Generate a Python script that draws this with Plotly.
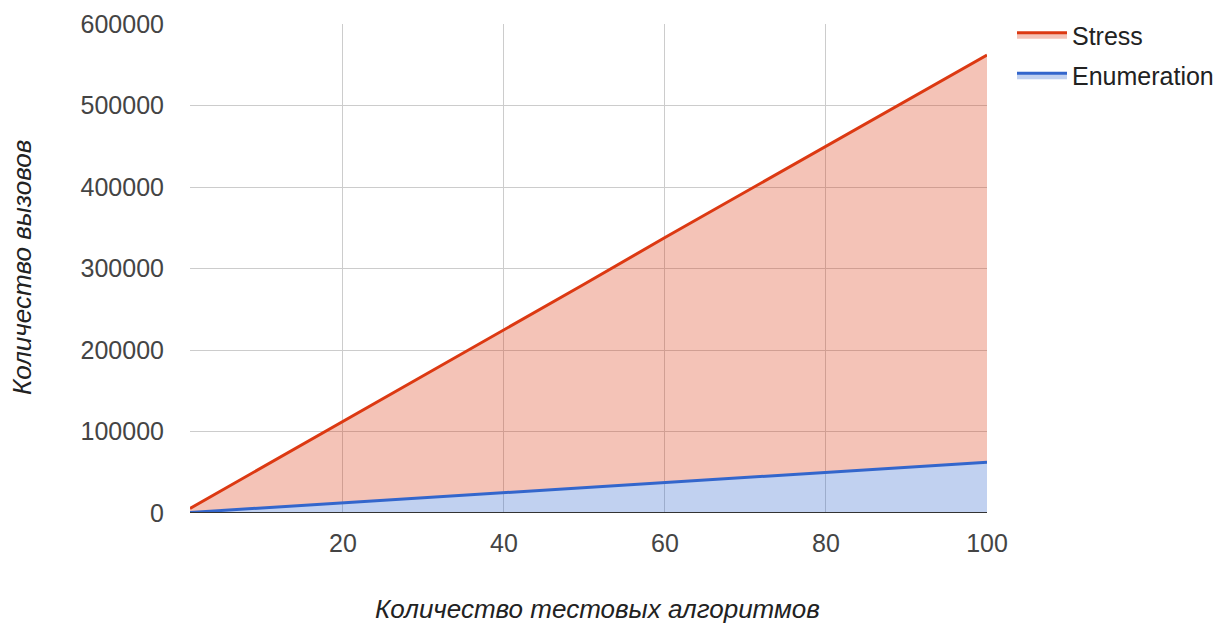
import plotly.graph_objects as go

x_vals = [1, 10, 20, 30, 40, 50, 60, 70, 80, 90, 100]
stress = [5600, 56200, 112000, 168500, 225000, 281000, 338000, 394000, 450000, 506000, 562000]
enumeration = [620, 6200, 12400, 18700, 25000, 31000, 37300, 43500, 50000, 56000, 62200]
x_ticks = [20, 40, 60, 80, 100]
y_ticks = [0, 100000, 200000, 300000, 400000, 500000, 600000]

OFF = 8  # page body offset
W, H = 1224, 623
pl, pr, pt, pb = 190 - OFF, 987 - OFF, 24 - OFF, 513 - OFF

fig = go.Figure()
fig.add_trace(go.Scatter(
    x=x_vals, y=enumeration, name="Enumeration", mode="lines",
    line=dict(color="#3366cc", width=3), fill="tozeroy", legendgroup="e",
    fillcolor="rgba(51,102,204,0.3)", legendrank=2))
fig.add_trace(go.Scatter(
    x=x_vals, y=stress, name="Stress", mode="lines",
    line=dict(color="#dc3912", width=3), fill="tonexty", legendgroup="s",
    fillcolor="rgba(220,57,18,0.3)", legendrank=1))

def px(xp, yp):
    return (xp - OFF - pl) / (pr - pl), (pb - (yp - OFF)) / (pb - pt)

ax_x, ax_y = px(597, 609)
ay_x, ay_y = px(22, 268)

fig.update_layout(
    width=W, height=H,
    margin=dict(l=pl, r=W - pr, t=pt, b=H - pb, autoexpand=False),
    plot_bgcolor="white", paper_bgcolor="white",
    font=dict(family="Arial, Liberation Sans, sans-serif", size=25, color="#444"),
    showlegend=True,
    legend=dict(xref="container", yref="container",
                x=(1012 - OFF) / W, y=1 - (12 - OFF) / H, xanchor="left", yanchor="top",
                traceorder="grouped", font=dict(size=25, color="#222"),
                bgcolor="rgba(0,0,0,0)", tracegroupgap=5, itemwidth=50),
    xaxis=dict(range=[1, 100], tickvals=x_ticks, showgrid=True, gridcolor="#cccccc",
               gridwidth=1, zeroline=False, showline=False, ticks="", automargin=False,
               tickfont=dict(size=25, color="#444"), ticklabelstandoff=13),
    yaxis=dict(range=[0, 600000], tickvals=y_ticks, tickformat="d", showgrid=True,
               gridcolor="#cccccc", gridwidth=1, zeroline=False, showline=False,
               ticks="", automargin=False,
               tickfont=dict(size=25, color="#444"), ticklabelstandoff=25),
    annotations=[
        dict(text="Количество тестовых алгоритмов", x=ax_x, y=ax_y, xref="paper", yref="paper",
             xanchor="center", yanchor="middle",
             showarrow=False, font=dict(size=26, color="#222", style="italic")),
        dict(text="Количество вызовов", x=ay_x, y=ay_y, xref="paper", yref="paper",
             xanchor="center", yanchor="middle",
             showarrow=False, textangle=-90, font=dict(size=26, color="#222", style="italic")),
    ],
    shapes=[dict(type="line", xref="x", yref="y", x0=1, x1=100, y0=0, y1=0,
                 line=dict(color="#333", width=2), layer="above")],
)
fig.write_html("out.html")
